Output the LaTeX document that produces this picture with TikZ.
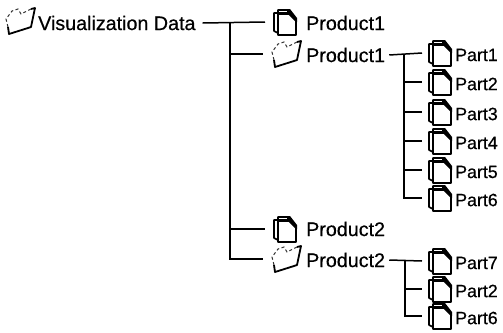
\documentclass[tikz,border=0pt]{standalone}
\usepackage{fontspec}
\setmainfont{Liberation Sans}
\newfontfamily\lblfont{Liberation Sans}[FakeBold=0.5]
\tikzset{
  x=1pt,y=-1pt,
  lbl/.style={anchor=west,inner sep=0pt,font=\lblfont\fontsize{19.7}{22}\selectfont,text=black},
  partlbl/.style={anchor=west,inner sep=0pt,font=\lblfont\fontsize{17.8}{20}\selectfont,text=black},
  iconbox/.style={minimum width=#1,minimum height=22pt,inner sep=0pt,outer sep=0pt},
  conn/.style={draw=black,line width=1.5pt},
  docline/.style={draw=black,line width=1.6pt,line join=round,fill=white},
  foldline/.style={draw=black,line width=1.8pt,line join=round},
  foldfaint/.style={draw=black!80,line width=1pt,dash pattern=on 3pt off 2.5pt},
  pics/docstack/.style={code={
    \draw[docline] (-11,-9) -- (-11,9) -- (-7,11) -- (-7,-12) -- (3,-12) -- (3,-9) -- cycle;
    \draw[docline] (-7,-8) -- (4,-8) -- (11,-1) -- (11,13) -- (-7,13) -- cycle;
    \fill[black] (2,-13) -- (5,-13) -- (12,-4) -- (12,0) -- (4,-8) -- (2,-8) -- cycle;
  }},
  pics/openfolder/.style={code={
    \draw[foldline] (-13,6) -- (-12,13) -- (7,7) -- (10,6) -- (14,-13) -- (10,-12);
    \draw[foldfaint] (-13,6) -- (-15,-2) -- (-9,-10) -- (-3,-12) -- (0,-7) -- (10,-12);
  }},
}
\begin{document}
\begin{tikzpicture}
\useasboundingbox (0,0) rectangle (503,332);

% root
\node[iconbox=29pt] (rooticon) at (21,21) {};
\pic at (21,21) {openfolder};
\node[lbl] (root) at (38,23) {Visualization Data};

% product level
\pic at (285,22) {docstack};
\node[iconbox=40pt] (p1doc) at (285,22) {};
\node[lbl] (p1doct) at (306,23) {Product1};
\pic at (287,54) {openfolder};
\node[iconbox=48pt] (p1fold) at (287,54) {};
\node[lbl] (p1foldt) at (306,55) {Product1};
\pic at (285,229) {docstack};
\node[iconbox=40pt] (p2doc) at (285,229) {};
\node[lbl] (p2doct) at (306,229) {Product2};
\pic at (287,259) {openfolder};
\node[iconbox=48pt] (p2fold) at (287,259) {};
\node[lbl] (p2foldt) at (306,260) {Product2};

% parts
\foreach \n/\t/\yy in {a/Part1/53,b/Part2/82,c/Part3/112,d/Part4/141,e/Part5/170,f/Part6/198,g/Part7/261,h/Part2/289,i/Part6/316}{
  \pic at (440,\yy) {docstack};
  \node[iconbox=36pt] (\n) at (440,\yy) {};
  \node[partlbl] (\n t) at (455,\yy+2) {\t};
}

% trunk junctions
\coordinate (j0) at (230,23);
\coordinate (j1) at (404,54);
\coordinate (j2) at (405,261);

\draw[conn] ([xshift=7pt]root.east) -- (p1doc.west);
\draw[conn] (j0) |- (p1fold.west);
\draw[conn] (j0) |- (p2doc.west);
\draw[conn] (j0) |- (p2fold.west);

\draw[conn] ([xshift=4pt]p1foldt.east) -- (a.west);
\foreach \n in {b,c,d,e,f}{\draw[conn] (j1) |- (\n.west);}

\draw[conn] ([xshift=4pt]p2foldt.east) -- (g.west);
\foreach \n in {h,i}{\draw[conn] (j2) |- (\n.west);}
\end{tikzpicture}
\end{document}
